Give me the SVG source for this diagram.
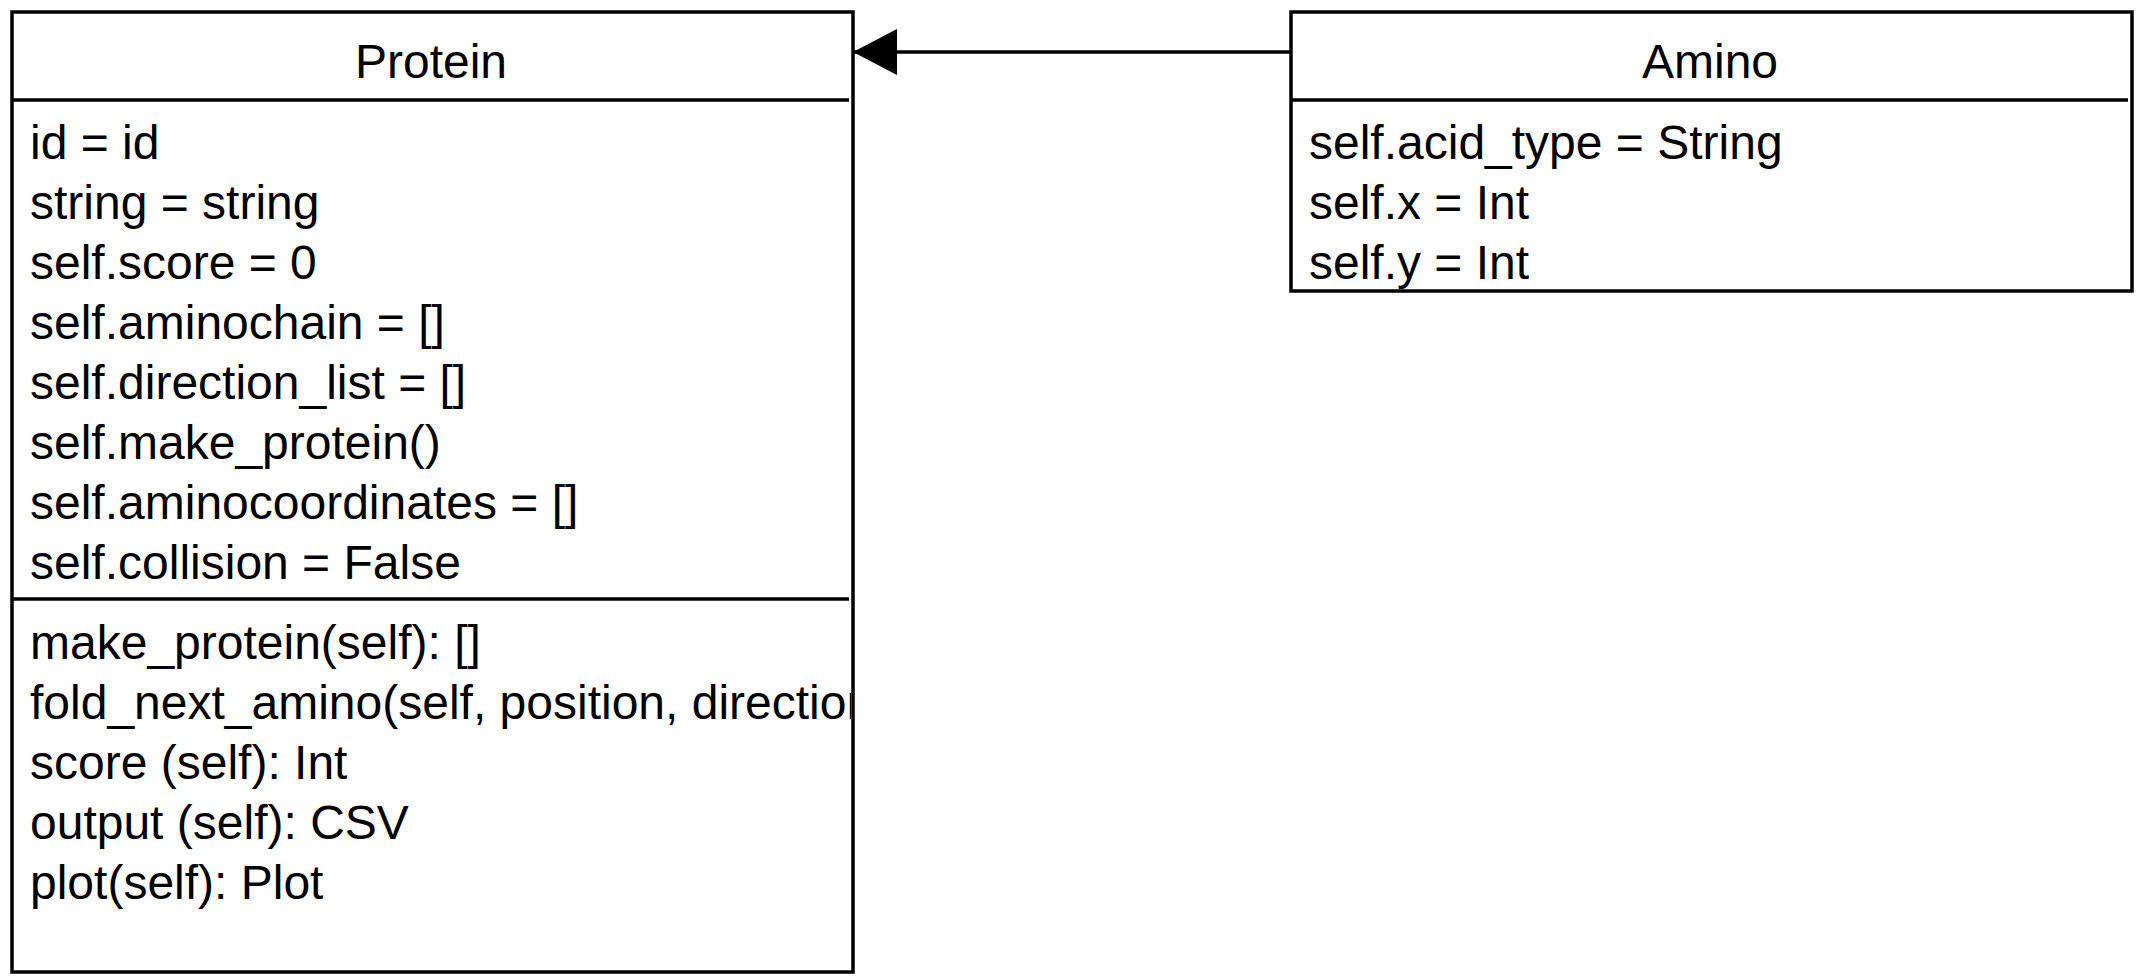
<svg xmlns="http://www.w3.org/2000/svg" width="2140" height="980" viewBox="0 0 2140 980">
<style>
.box{fill:#fff;stroke:#000;stroke-width:3.5}
.sep{stroke:#000;stroke-width:3.5;fill:none}
text{font-family:"Liberation Sans",Arial,Helvetica,sans-serif;font-size:48px;fill:#000}
.title{text-anchor:middle}
.conn{stroke:#000;stroke-width:3.5;fill:none}
</style>
<defs>
<marker id="tri" markerUnits="userSpaceOnUse" markerWidth="46" markerHeight="48" refX="44" refY="24" orient="auto">
<path d="M0,1 L44,24 L0,47 Z" fill="#000"/>
</marker>
<clipPath id="pclip"><rect x="12" y="12" width="839" height="960"/></clipPath>
</defs>
<rect width="2140" height="980" fill="#fff"/>
<g id="connectors">
<path class="conn" d="M1291,52 L853,52" marker-end="url(#tri)"/>
</g>
<g id="protein">
<rect class="box" x="12" y="12" width="841" height="960"/>
<line class="sep" x1="12" y1="100" x2="849" y2="100"/>
<line class="sep" x1="12" y1="599" x2="849" y2="599"/>
<text class="title" x="431" y="78">Protein</text>
<g clip-path="url(#pclip)">
<text x="30" y="159">id = id</text>
<text x="30" y="219">string = string</text>
<text x="30" y="279">self.score = 0</text>
<text x="30" y="339">self.aminochain = []</text>
<text x="30" y="399">self.direction_list = []</text>
<text x="30" y="459">self.make_protein()</text>
<text x="30" y="519">self.aminocoordinates = []</text>
<text x="30" y="579">self.collision = False</text>
<text x="30" y="659">make_protein(self): []</text>
<text x="30" y="719">fold_next_amino(self, position, direction)</text>
<text x="30" y="779">score (self): Int</text>
<text x="30" y="839">output (self): CSV</text>
<text x="30" y="899">plot(self): Plot</text>
</g>
</g>
<g id="amino">
<rect class="box" x="1291" y="12" width="841" height="279"/>
<line class="sep" x1="1291" y1="100" x2="2128" y2="100"/>
<text class="title" x="1710" y="78">Amino</text>
<text x="1309" y="159">self.acid_type = String</text>
<text x="1309" y="219">self.x = Int</text>
<text x="1309" y="279">self.y = Int</text>
</g>
</svg>
